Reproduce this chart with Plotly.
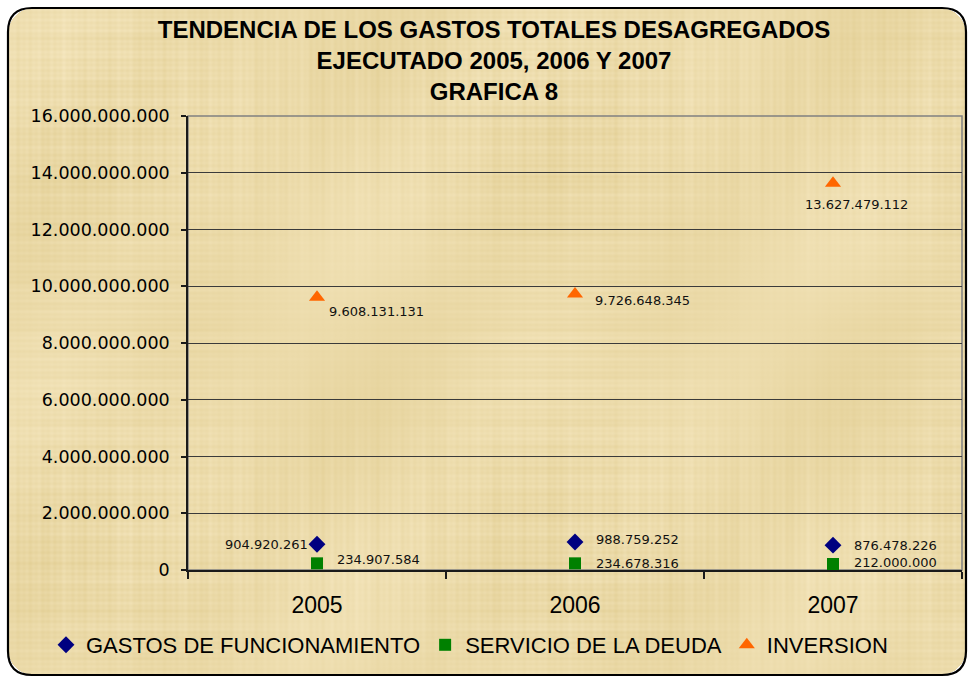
import base64
import struct
import zlib

import numpy as np
import plotly.graph_objects as go

# ---- data -------------------------------------------------------------
years = ["2005", "2006", "2007"]
funcionamiento = [904920261, 988759252, 876478226]
deuda = [234907584, 234678316, 212000000]
inversion = [9608131131, 9726648345, 13627479112]
y_ticks = [0, 2e9, 4e9, 6e9, 8e9, 10e9, 12e9, 14e9, 16e9]

series_names = ["GASTOS DE FUNCIONAMIENTO", "SERVICIO DE LA DEUDA", "INVERSION"]
series_colors = ["#000080", "#008000", "#FF6600"]
series_symbols = ["diamond", "square", "triangle-up"]
series_sizes = [13, 12, 14]

# label offsets (px) per series / year: (xanchor, xshift, yshift)
label_offsets = [
    [("right", -7, 0), ("left", 19, 2), ("left", 19, 0)],
    [("left", 18, 4), ("left", 19, 0), ("left", 19, 1)],
    [("left", 10, -14), ("left", 18, -6), ("left", -30, -21)],
]

W, H = 972, 677
ML, MR, MT, MB = 188, 10, 116, 107
PW, PH = W - ML - MR, H - MT - MB


def px(x):
    return (x - ML) / PW


def py(y):
    return (H - MB - y) / PH


def fmt(v):
    return f"{int(v):,}".replace(",", ".")


# ---- papyrus-like background texture (rounded rectangle, PNG data URI) --
FX0, FX1, FY0, FY1, RAD = 8, 966, 8, 675, 24
fw, fh = FX1 - FX0, FY1 - FY0


def papyrus_png(w, h, rad):
    yy, xx = np.mgrid[0:h, 0:w].astype(float)
    horiz = (0.50 * np.sin(2 * np.pi * yy / 5.3 + 0.4)
             + 0.35 * np.sin(2 * np.pi * yy / 11.7 + 1.9)
             + 0.30 * np.sin(2 * np.pi * yy / 23.9 + 2.7)
             + 0.25 * np.sin(2 * np.pi * yy / 47.1 + 0.8))
    vert = (0.45 * np.sin(2 * np.pi * xx / 6.1 + 1.1)
            + 0.35 * np.sin(2 * np.pi * xx / 13.3 + 0.2)
            + 0.30 * np.sin(2 * np.pi * xx / 29.7 + 2.2)
            + 0.25 * np.sin(2 * np.pi * xx / 57.3 + 1.5))
    blot = (np.sin(xx / 83.0 + 0.7) * np.sin(yy / 61.0 + 1.3)
            + 0.6 * np.sin(xx / 37.0 + yy / 53.0))
    t = 0.45 * horiz * (0.6 + 0.4 * np.sin(xx / 71.0)) \
        + 0.45 * vert * (0.6 + 0.4 * np.sin(yy / 67.0)) + 0.35 * blot
    base = np.array([236.0, 219.0, 170.0])
    delta = np.array([7.0, 9.0, 16.0])
    rgb = base[None, None, :] + t[..., None] * delta[None, None, :]
    rgb = np.clip(rgb, 0, 255)
    # transparent outside rounded corners
    cx = np.clip(xx, rad, w - 1 - rad)
    cy = np.clip(yy, rad, h - 1 - rad)
    inside = (xx - cx) ** 2 + (yy - cy) ** 2 <= rad ** 2
    alpha = np.where(inside, 255, 0)
    arr = np.dstack([rgb, alpha]).astype(np.uint8)
    raw = b"".join(b"\x00" + arr[i].tobytes() for i in range(h))

    def chunk(tag, data):
        c = struct.pack(">I", len(data)) + tag + data
        return c + struct.pack(">I", zlib.crc32(tag + data) & 0xFFFFFFFF)

    png = (b"\x89PNG\r\n\x1a\n"
           + chunk(b"IHDR", struct.pack(">IIBBBBB", w, h, 8, 6, 0, 0, 0))
           + chunk(b"IDAT", zlib.compress(raw, 9))
           + chunk(b"IEND", b""))
    return "data:image/png;base64," + base64.b64encode(png).decode()


fig = go.Figure()
all_values = [funcionamiento, deuda, inversion]
for name, vals, col, sym, sz in zip(series_names, all_values, series_colors,
                                     series_symbols, series_sizes):
    fig.add_trace(go.Scatter(
        x=years, y=vals, mode="markers", name=name,
        marker=dict(symbol=sym, size=sz, color=col, line=dict(width=0)),
        cliponaxis=False,
    ))

# value labels next to each marker (category axis -> index positions)
annotations = []
for vals, offs in zip(all_values, label_offsets):
    for i, (v, (anchor, dx, dy)) in enumerate(zip(vals, offs)):
        annotations.append(dict(
            x=i, y=v, xref="x", yref="y", text=fmt(v), showarrow=False,
            xanchor=anchor, yanchor="middle", xshift=dx, yshift=dy,
            font=dict(family="DejaVu Sans", size=13, color="#111111"),
        ))

# rounded outer frame outline
rx, ry = RAD / PW, RAD / PH
X0, X1, Y0, Y1 = px(FX0), px(FX1), py(FY0), py(FY1)
frame_path = (
    f"M {X0 + rx},{Y0} L {X1 - rx},{Y0} Q {X1},{Y0} {X1},{Y0 - ry} "
    f"L {X1},{Y1 + ry} Q {X1},{Y1} {X1 - rx},{Y1} "
    f"L {X0 + rx},{Y1} Q {X0},{Y1} {X0},{Y1 + ry} "
    f"L {X0},{Y0 - ry} Q {X0},{Y0} {X0 + rx},{Y0} Z"
)

shapes = [
    dict(type="path", path=frame_path, xref="paper", yref="paper",
         line=dict(color="#000000", width=2.2), layer="below"),
    dict(type="rect", xref="paper", yref="paper", x0=0, x1=1, y0=0, y1=1,
         line=dict(color="#808080", width=1.5), layer="below"),
]

images = [dict(
    source=papyrus_png(fw, fh, RAD), xref="paper", yref="paper",
    x=X0, y=Y0, sizex=X1 - X0, sizey=Y0 - Y1, xanchor="left", yanchor="top",
    sizing="stretch", layer="below",
)]

fig.update_layout(
    width=W, height=H,
    margin=dict(l=ML, r=MR, t=MT, b=MB, pad=0, autoexpand=False),
    paper_bgcolor="#FFFFFF",
    plot_bgcolor="rgba(0,0,0,0)",
    separators=",.",
    title=dict(
        text="TENDENCIA DE LOS GASTOS TOTALES DESAGREGADOS<br>"
             "EJECUTADO 2005, 2006 Y 2007<br>GRAFICA 8",
        x=494 / W, xanchor="center", y=1 - 38 / H, yanchor="top",
        font=dict(family="Liberation Sans", size=24, color="#000000",
                  weight="bold"),
    ),
    xaxis=dict(
        type="category", range=[-0.5, 2.5], showgrid=False,
        showline=True, linecolor="#1A1A1A", linewidth=1.5,
        ticks="outside", tickson="boundaries", ticklen=7,
        tickcolor="#1A1A1A", tickwidth=1.5,
        tickfont=dict(family="Liberation Sans", size=23, color="#000000"),
        ticklabelstandoff=14,
        zeroline=False,
    ),
    yaxis=dict(
        range=[0, 16e9], tickvals=y_ticks, tickformat=",d",
        showgrid=True, gridcolor="#3A3A3A", gridwidth=1.2,
        showline=True, linecolor="#1A1A1A", linewidth=1.5,
        ticks="outside", ticklen=5, tickcolor="#1A1A1A", tickwidth=1.5,
        tickfont=dict(family="DejaVu Sans", size=17.5, color="#000000"),
        ticklabelstandoff=8,
        zeroline=False,
    ),
    legend=dict(
        orientation="h", xref="paper", yref="paper",
        x=px(46), xanchor="left", y=py(645), yanchor="middle",
        bgcolor="rgba(0,0,0,0)",
        font=dict(family="Liberation Sans", size=22, color="#000000"),
        itemwidth=30,
    ),
    annotations=annotations,
    shapes=shapes,
    images=images,
    showlegend=True,
)

fig.write_html("out.html")
